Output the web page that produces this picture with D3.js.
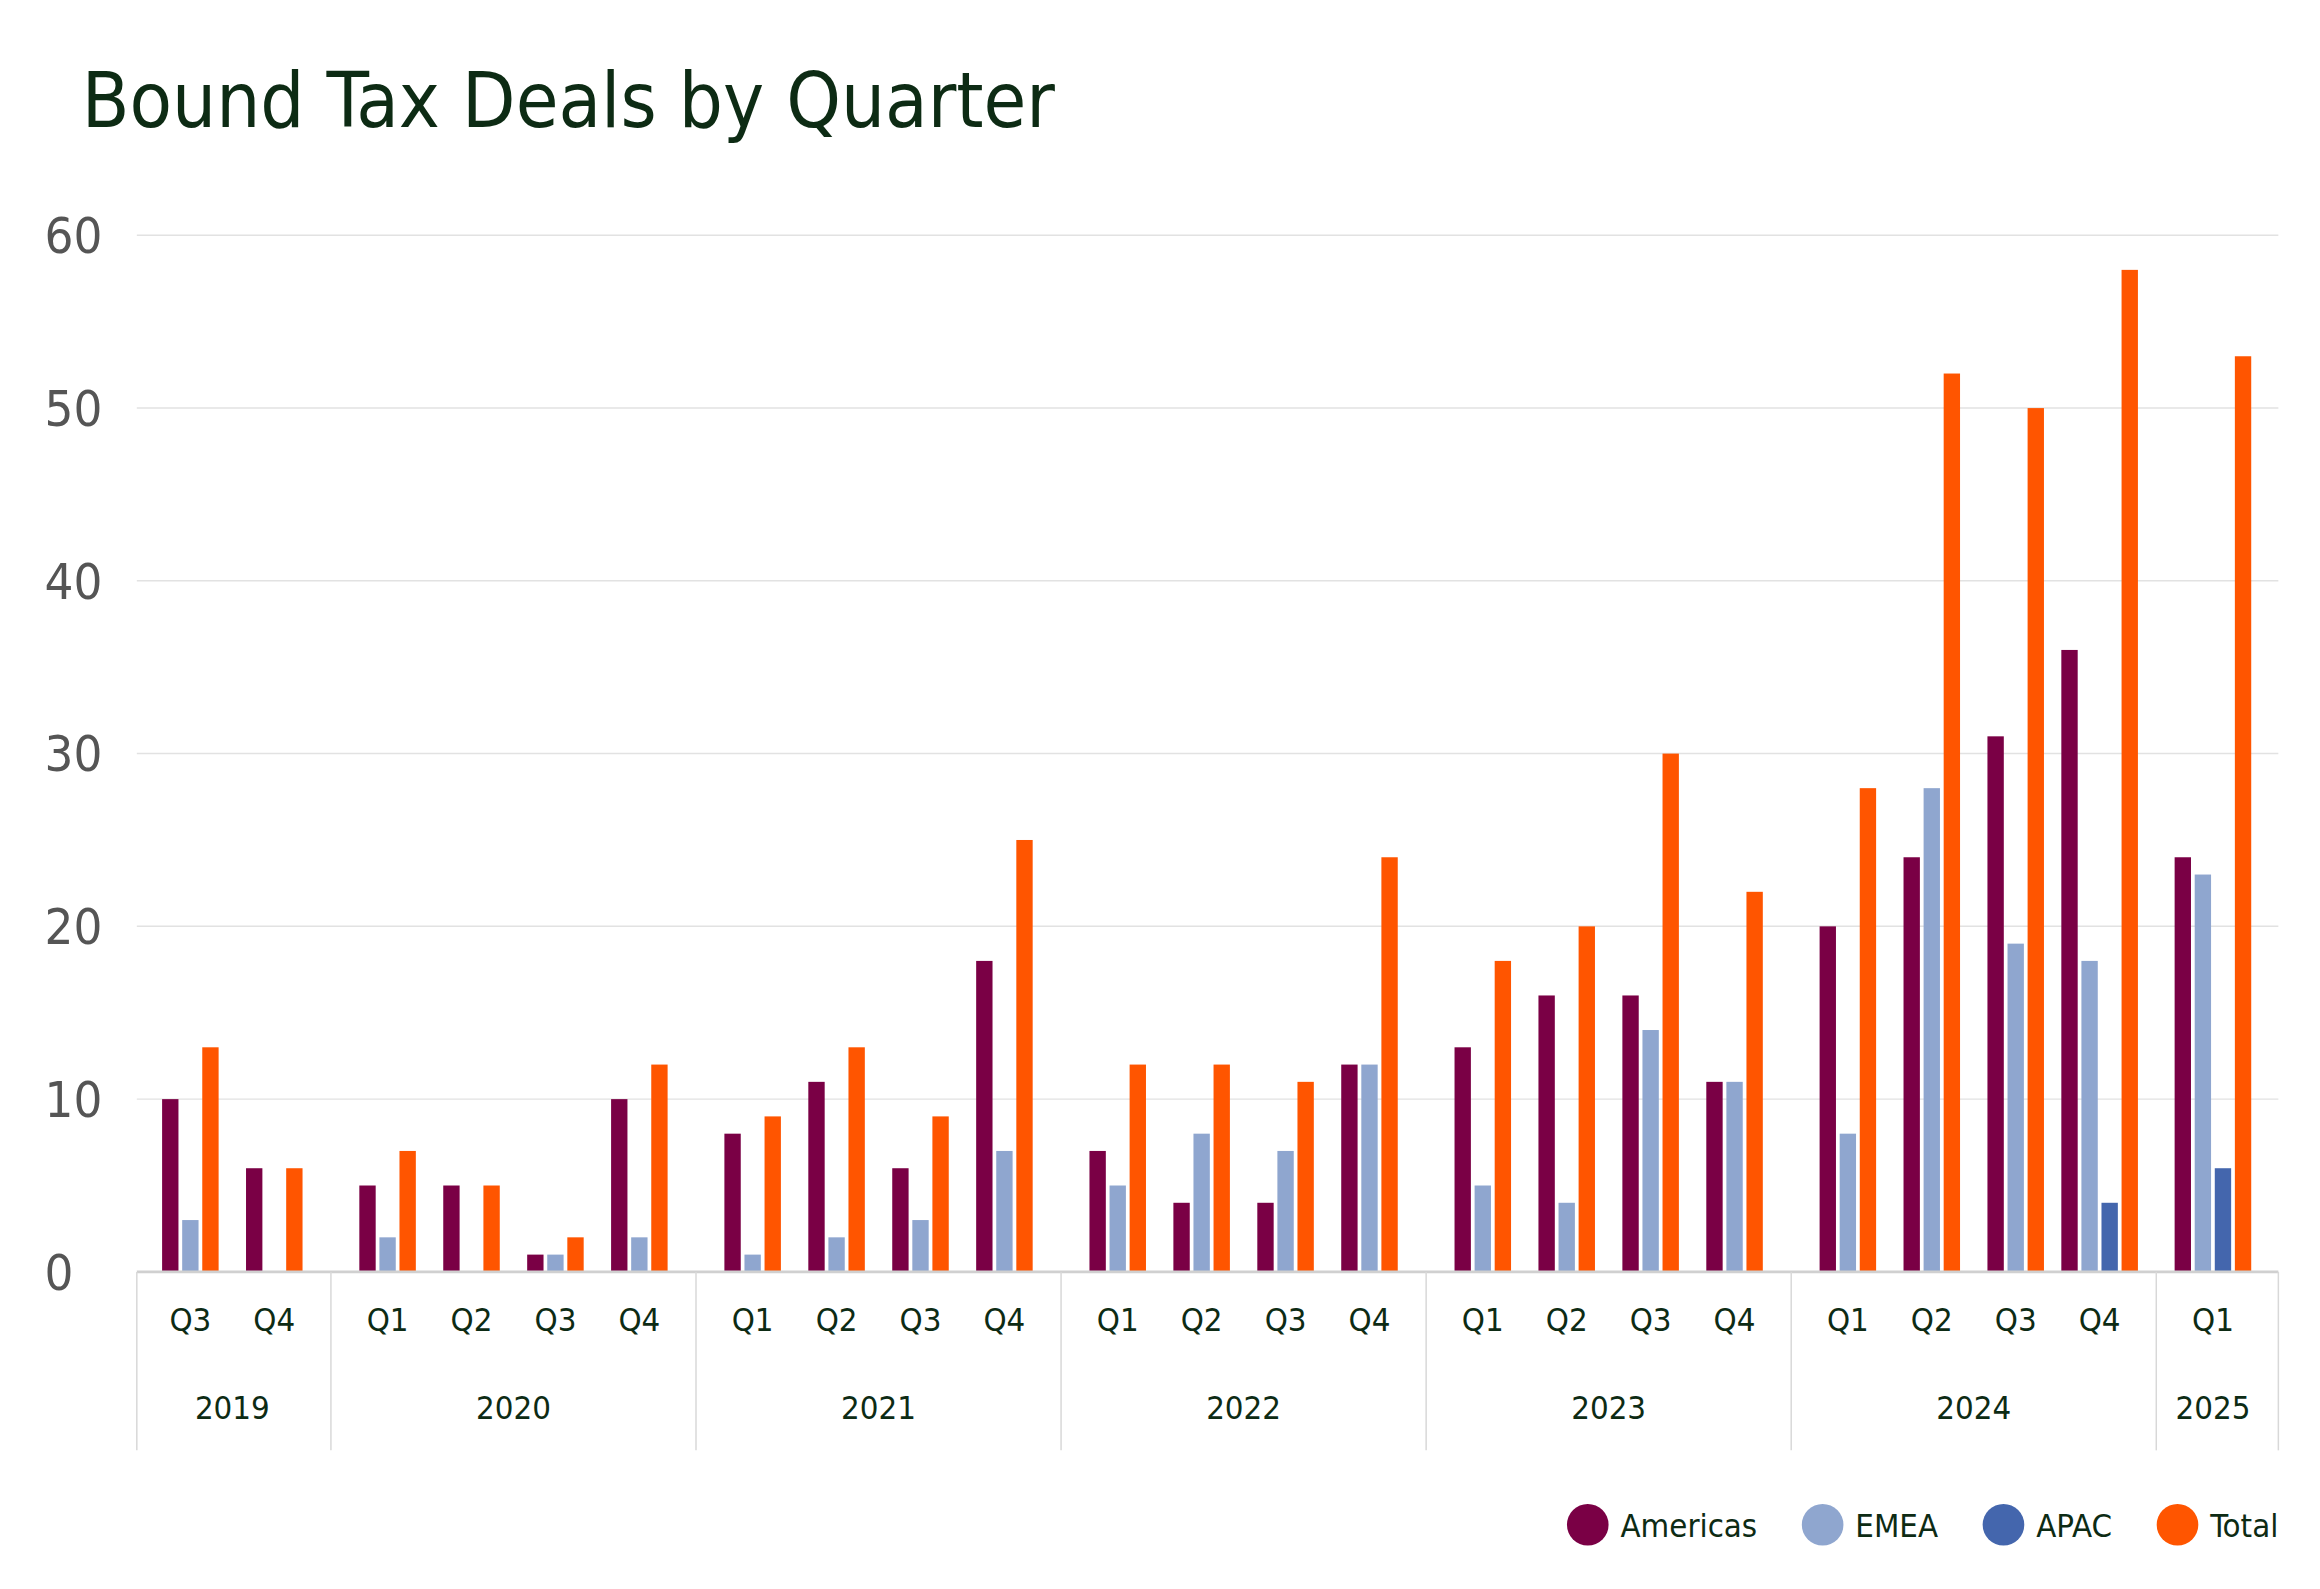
<!DOCTYPE html>
<html><head><meta charset="utf-8">
<script src="https://cdn.jsdelivr.net/npm/d3@7"></script>
<style>body{margin:0;background:#fff}svg{display:block}</style>
</head><body><svg id="chart" width="2320" height="1589"></svg>
<script>
const quarters = ['Q3','Q4','Q1','Q2','Q3','Q4','Q1','Q2','Q3','Q4','Q1','Q2','Q3','Q4','Q1','Q2','Q3','Q4','Q1','Q2','Q3','Q4','Q1'];
const years = ['2019','2019','2020','2020','2020','2020','2021','2021','2021','2021','2022','2022','2022','2022','2023','2023','2023','2023','2024','2024','2024','2024','2025'];
const americas = [10,6,5,5,1,10,8,11,6,18,7,4,4,12,13,16,16,11,20,24,31,36,24];
const emea = [3,0,2,0,1,2,1,2,3,7,5,8,7,12,5,4,14,11,8,28,19,18,23];
const apac = [null,null,null,null,null,null,null,null,null,null,null,null,null,null,null,null,null,null,null,null,null,4,6];
const total = [13,6,7,5,2,12,9,13,9,25,12,12,11,24,18,20,30,22,28,52,50,58,53];
const seriesNames = ['Americas','EMEA','APAC','Total'];
const seriesColors = ['#7a0045','#8fa6cf','#4466ad','#ff5500'];
const yTicks = [0,10,20,30,40,50,60];

const svg = d3.select('#chart').attr('viewBox','0 0 1560 1068');
const font = '"Liberation Sans Narrow","DejaVu Sans Condensed","Roboto",sans-serif';
const left = 92, right = 1532, zeroY = 855, topY = 158;

svg.append('text').attr('x',55).attr('y',85).attr('font-family',font)
  .attr('font-size',52).attr('fill','#0d2b14').text('Bound Tax Deals by Quarter');

const y = d3.scaleLinear().domain([0,60]).range([zeroY, topY]);
const yearList = Array.from(new Set(years));
const gap = 0.35;
const pos = quarters.map((q,i) => i + gap * yearList.indexOf(years[i]));
const x = d3.scaleLinear().domain([0, d3.max(pos)]).range([128,1488]);

svg.append('g').selectAll('line').data(yTicks.slice(1)).join('line')
  .attr('x1',left).attr('x2',right).attr('y1',d=>y(d)).attr('y2',d=>y(d))
  .attr('stroke','#e2e2e2').attr('stroke-width',1);
svg.append('g').selectAll('text').data(yTicks).join('text')
  .attr('x',30).attr('y',d=>y(d)+12).attr('font-family',font).attr('font-size',34)
  .attr('fill','#555').text(d=>d);

const all = [americas, emea, apac, total];
const step = 13.5, bw = 11;
quarters.forEach((q,i) => {
  const present = all.map((s,k)=>({k, v:s[i]})).filter(d=>d.v!==null);
  const sub = d3.scalePoint().domain(present.map(d=>d.k)).range([-(present.length-1)*step/2,(present.length-1)*step/2]);
  svg.append('g').selectAll('rect').data(present).join('rect')
    .attr('x',d=>x(pos[i])+sub(d.k)-bw/2).attr('width',bw)
    .attr('y',d=>y(d.v)).attr('height',d=>zeroY-y(d.v))
    .attr('fill',d=>seriesColors[d.k]);
  svg.append('text').attr('x',x(pos[i])).attr('y',895).attr('text-anchor','middle')
    .attr('font-family',font).attr('font-size',22).attr('fill','#0d2b14').text(q);
});

svg.append('line').attr('x1',left).attr('x2',right).attr('y1',zeroY).attr('y2',zeroY)
  .attr('stroke','#d0d0d0').attr('stroke-width',2);

// year separators and labels
const seps = [left];
yearList.forEach((yr,j) => {
  const idx = years.map((v,i)=>v===yr?i:-1).filter(i=>i>=0);
  const a = idx[0], b = idx[idx.length-1];
  const end = b < years.length-1 ? (x(pos[b])+x(pos[b+1]))/2 : right;
  seps.push(end);
  svg.append('text').attr('x',(x(pos[a])+x(pos[b]))/2).attr('y',954).attr('text-anchor','middle')
    .attr('font-family',font).attr('font-size',22).attr('fill','#0d2b14').text(yr);
});
svg.append('g').selectAll('line').data(seps).join('line')
  .attr('x1',d=>d).attr('x2',d=>d).attr('y1',zeroY).attr('y2',975)
  .attr('stroke','#d8d8d8').attr('stroke-width',1);

// legend, right aligned
const lg = svg.append('g');
let lx = right;
const items = seriesNames.map((n,k)=>({n,k})).reverse();
items.forEach(d => {
  const t = lg.append('text').attr('y',1033).attr('font-family',font).attr('font-size',22)
    .attr('fill','#0d2b14').text(d.n);
  const w = t.node().getComputedTextLength();
  t.attr('x', lx - w);
  lg.append('circle').attr('cx', lx - w - 22).attr('cy',1025).attr('r',14).attr('fill',seriesColors[d.k]);
  lx = lx - w - 22 - 14 - 30;
});
</script></body></html>
